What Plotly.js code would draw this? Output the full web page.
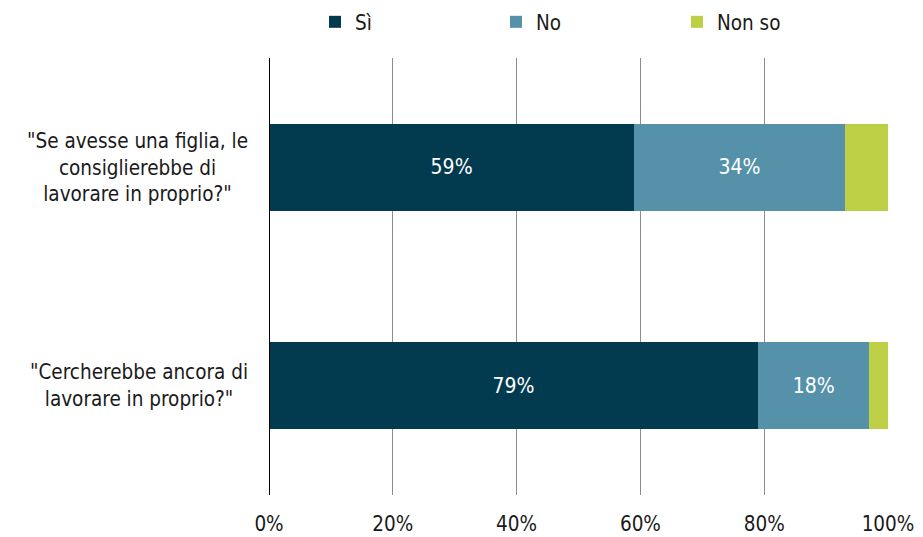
<!DOCTYPE html>
<html>
<head>
<meta charset="utf-8">
<script src="https://cdn.plot.ly/plotly-3.0.1.min.js"></script>
<style>html,body{margin:0;padding:0;background:#fff;}#chart{width:923px;height:537px;}</style>
</head>
<body>
<div id="chart"></div>
<script>
const categories = ['"Se avesse una figlia, le<br>consiglierebbe di<br>lavorare in proprio?"', '"Cercherebbe ancora di<br>lavorare in proprio?"'];
const seriesNames = ['Sì', 'No', 'Non so'];
const si = [59, 79];
const no = [34, 18];
const nonSo = [7, 3];
const tickVals = [0, 20, 40, 60, 80, 100];
const tickText = ['0%', '20%', '40%', '60%', '80%', '100%'];

const FONT = '"Liberation Sans Narrow", "DejaVu Sans Condensed", sans-serif';
const colors = ['#023a4f', '#5592aa', '#bdd045'];
const ys = [1, 0];
const values = [si, no, nonSo];
const showText = [true, true, false];

const traces = values.map((v, i) => ({
  type: 'bar',
  orientation: 'h',
  name: seriesNames[i],
  x: v,
  y: ys,
  marker: {color: colors[i], line: {width: 0}},
  text: showText[i] ? v.map(d => d + '%') : v.map(() => ''),
  textposition: 'inside',
  insidetextanchor: 'middle',
  textfont: {color: '#ffffff', size: 21, family: FONT},
  hoverinfo: 'x+name',
  width: 0.4
}));

const annotations = categories.map((c, i) => ({
  xref: 'paper', yref: 'y',
  x: -0.03, y: ys[i],
  xanchor: 'right', yanchor: 'middle',
  text: c, align: 'center', showarrow: false,
  font: {size: 20.5, color: '#1a1a1a', family: FONT}
}));

const layout = {
  width: 923, height: 537,
  margin: {l: 269, r: 35, t: 58, b: 42},
  barmode: 'stack',
  bargap: 0.6,
  paper_bgcolor: '#ffffff',
  plot_bgcolor: '#ffffff',
  font: {family: FONT, size: 20, color: '#1a1a1a'},
  showlegend: true,
  legend: {
    orientation: 'h', x: 315/923, xanchor: 'left', xref: 'container',
    y: 1 - 22/537, yanchor: 'middle', yref: 'container',
    entrywidth: 136, entrywidthmode: 'pixels',
    font: {size: 20.5, family: FONT, color: '#1a1a1a'},
    traceorder: 'normal', itemclick: false
  },
  xaxis: {
    range: [0, 100], tickvals: tickVals, ticktext: tickText,
    showgrid: true, gridcolor: '#8c8c8c', gridwidth: 1,
    zeroline: false, showline: false, ticks: '',
    ticklabelstandoff: 14,
    tickfont: {size: 20.5, family: FONT, color: '#1a1a1a'},
    fixedrange: true
  },
  yaxis: {
    range: [-0.5, 1.5], showticklabels: false, showgrid: false,
    zeroline: false, showline: false, ticks: '', fixedrange: true
  },
  shapes: [{
    type: 'line', xref: 'x', yref: 'paper', x0: 0, x1: 0, y0: 0, y1: 1,
    line: {color: '#000000', width: 2}
  }],
  annotations: annotations
};

Plotly.newPlot('chart', traces, layout, {displayModeBar: false, staticPlot: true});
</script>
</body>
</html>
